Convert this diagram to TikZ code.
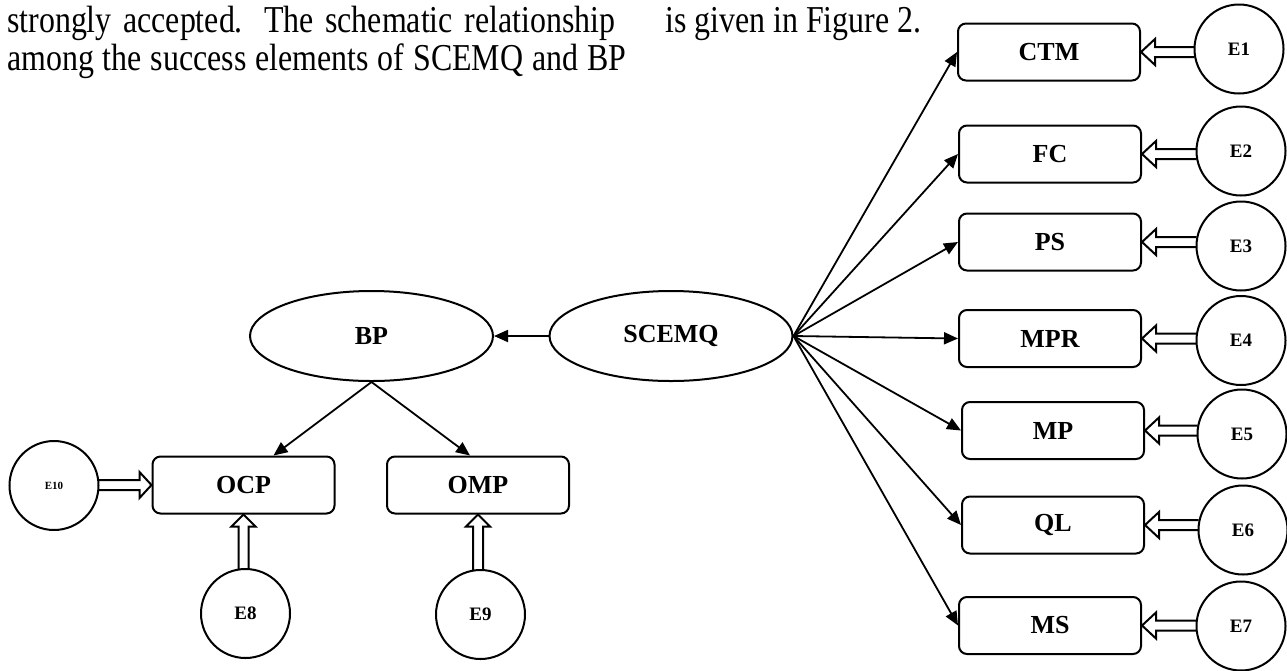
\documentclass[tikz,border=0pt]{standalone}
\usepackage{fontspec}
\setmainfont{Liberation Serif}
\newfontfamily\hdrfont[FakeStretch=0.84]{Liberation Serif}
\usetikzlibrary{shapes.geometric,arrows.meta,calc}
\tikzset{
  box/.style={draw,line width=2pt,rounded corners=8pt,minimum width=182pt,minimum height=57pt,inner sep=0pt,font=\bfseries\fontsize{26}{26}\selectfont},
  lat/.style={draw,ellipse,line width=2pt,minimum width=243pt,minimum height=90pt,inner sep=0pt,font=\bfseries\fontsize{26}{26}\selectfont},
  err/.style={draw,circle,line width=2pt,minimum size=89pt,inner sep=0pt,font=\bfseries\fontsize{19}{19}\selectfont},
  link/.style={line width=1.8pt,-{Triangle[length=14pt,width=12pt]}},
  hollow/.style={line width=2pt,line join=miter},
  hdr/.style={inner sep=0pt,anchor=base west,font=\hdrfont\fontsize{38}{38}\selectfont}
}
\newcommand\hollowLeft[2]{%
  \draw[hollow] ($(#1.west |- #2.east)+(1,-5)$) -- ($(#2.east)+(14,-5)$) -- ($(#2.east)+(14,-13)$) -- (#2.east)
   -- ($(#2.east)+(14,13)$) -- ($(#2.east)+(14,5)$) -- ($(#1.west |- #2.east)+(1,5)$);}
\newcommand\hollowRight[2]{%
  \draw[hollow] ($(#1.east |- #2.west)+(-1,-5)$) -- ($(#2.west)+(-12,-5)$) -- ($(#2.west)+(-12,-13)$) -- (#2.west)
   -- ($(#2.west)+(-12,13)$) -- ($(#2.west)+(-12,5)$) -- ($(#1.east |- #2.west)+(-1,5)$);}
\newcommand\hollowUp[2]{%
  \draw[hollow] ($(#2.south |- #1.north)+(-5,1)$) -- ($(#2.south)+(-5,12)$) -- ($(#2.south)+(-12,12)$) -- (#2.south)
   -- ($(#2.south)+(12,12)$) -- ($(#2.south)+(5,12)$) -- ($(#2.south |- #1.north)+(5,1)$);}
\begin{document}
\begin{tikzpicture}[x=1pt,y=-1pt]
\useasboundingbox (0,0) rectangle (1287,670);
% header text
\node[hdr] (t1) at (7,32) {\makebox[608pt][s]{strongly accepted. The schematic relationship}};
\node[hdr] (t2) at (7,70) {\makebox[619pt][s]{among the success elements of SCEMQ and BP}};
\node[hdr] (t3) at (665,32) {is given in Figure 2.};
% latent variables
\node[lat] (BP) at (371.5,336) {BP};
\node[lat] (SCEMQ) at (671,336) {SCEMQ};
% indicator boxes
\node[box] (CTM) at (1049,52) {CTM};
\node[box] (FC) at (1050,154) {FC};
\node[box] (PS) at (1050,242) {PS};
\node[box] (MPR) at (1050,338.5) {MPR};
\node[box] (MP) at (1053,430.5) {MP};
\node[box] (QL) at (1053,525) {QL};
\node[box] (MS) at (1050,625.5) {MS};
\node[box] (OCP) at (243.5,485) {OCP};
\node[box] (OMP) at (478,485) {OMP};
% error terms
\node[err] (E1) at (1239,49) {E1};
\node[err] (E2) at (1241,151) {E2};
\node[err] (E3) at (1241,246) {E3};
\node[err] (E4) at (1241,340.5) {E4};
\node[err] (E5) at (1242,434) {E5};
\node[err] (E6) at (1243,530) {E6};
\node[err] (E7) at (1241,626) {E7};
\node[err] (E8) at (245.5,613.5) {E8};
\node[err] (E9) at (480.5,614.5) {E9};
\node[err,font=\bfseries\fontsize{11}{11}\selectfont] (E10) at (54,485.5) {E10};
% structural arrows
\draw[link] (SCEMQ.west) -- (BP.east);
\foreach \t in {CTM,FC,PS,MPR,MP,QL,MS}{\draw[link] (SCEMQ.east) -- (\t.west);}
\draw[link] (BP.south) -- ($(OCP.north)+(30,0)$);
\draw[link] (BP.south) -- ($(OMP.north)+(-8,0)$);
% error arrows
\hollowLeft{E1}{CTM}
\hollowLeft{E2}{FC}
\hollowLeft{E3}{PS}
\hollowLeft{E4}{MPR}
\hollowLeft{E5}{MP}
\hollowLeft{E6}{QL}
\hollowLeft{E7}{MS}
\hollowRight{E10}{OCP}
\hollowUp{E8}{OCP}
\hollowUp{E9}{OMP}
\end{tikzpicture}
\end{document}
